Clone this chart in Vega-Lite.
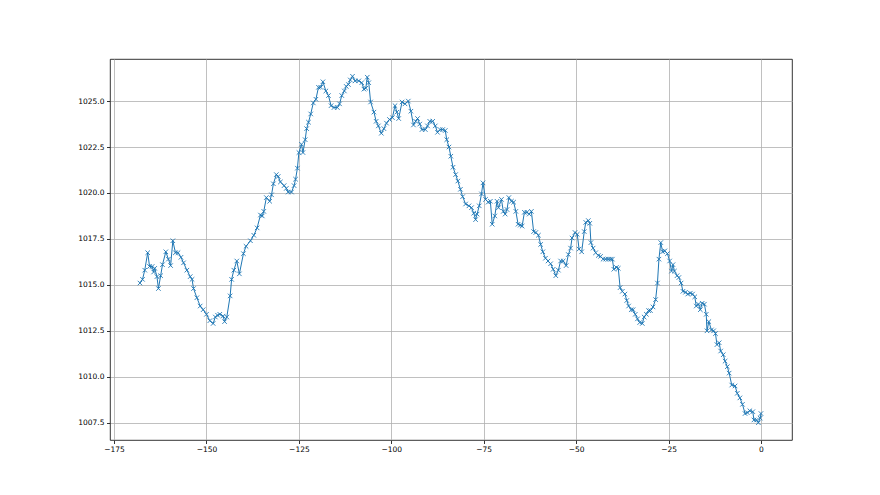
{
"$schema": "https://vega.github.io/schema/vega-lite/v6.json",
"width": 682, "height": 381,
"autosize": {"type": "none"},
"padding": {"left": 110, "top": 59, "right": 88, "bottom": 55},
"background": "white",
"config": {"view": {"stroke": "#000", "strokeWidth": 0.8}},
"data": {"values": [
{"t":-168.0,"p":1015.1},{"t":-167.3,"p":1015.3},{"t":-166.7,"p":1015.8},{"t":-165.9,"p":1016.75},{"t":-165.4,"p":1016.0},{"t":-164.7,"p":1016.0},{"t":-164.3,"p":1015.7},{"t":-164.0,"p":1015.9},{"t":-163.4,"p":1015.45},{"t":-163.0,"p":1014.8},{"t":-162.4,"p":1015.5},{"t":-161.9,"p":1016.1},{"t":-161.0,"p":1016.8},{"t":-160.3,"p":1016.4},{"t":-159.7,"p":1016.05},{"t":-159.1,"p":1017.4},{"t":-158.4,"p":1016.75},{"t":-157.7,"p":1016.75},{"t":-156.9,"p":1016.5},{"t":-156.2,"p":1016.2},{"t":-155.3,"p":1015.8},{"t":-154.4,"p":1015.45},{"t":-153.9,"p":1015.3},{"t":-153.5,"p":1014.8},{"t":-152.6,"p":1014.3},{"t":-151.7,"p":1013.85},{"t":-150.9,"p":1013.65},{"t":-150.0,"p":1013.4},{"t":-149.1,"p":1013.05},{"t":-148.2,"p":1012.9},{"t":-147.6,"p":1013.25},{"t":-147.0,"p":1013.35},{"t":-146.4,"p":1013.4},{"t":-145.5,"p":1013.3},{"t":-145.1,"p":1013.0},
{"t":-144.5,"p":1013.25},{"t":-143.6,"p":1014.4},{"t":-143.2,"p":1015.3},{"t":-142.6,"p":1015.8},{"t":-141.8,"p":1016.3},{"t":-141.1,"p":1015.6},{"t":-140.0,"p":1016.7},{"t":-139.3,"p":1017.1},{"t":-138.1,"p":1017.4},{"t":-137.2,"p":1017.7},{"t":-136.3,"p":1018.1},{"t":-135.4,"p":1018.8},{"t":-134.9,"p":1018.75},{"t":-134.5,"p":1019.0},{"t":-133.8,"p":1019.75},{"t":-132.9,"p":1019.55},{"t":-132.4,"p":1019.9},{"t":-131.9,"p":1020.5},{"t":-131.1,"p":1021.0},{"t":-130.6,"p":1020.9},{"t":-130.0,"p":1020.6},{"t":-129.0,"p":1020.4},{"t":-128.4,"p":1020.25},{"t":-127.9,"p":1020.05},{"t":-127.0,"p":1020.05},{"t":-126.3,"p":1020.4},{"t":-125.9,"p":1020.75},{"t":-125.4,"p":1021.35},{"t":-125.0,"p":1022.2},{"t":-124.3,"p":1022.65},{"t":-123.9,"p":1022.2},{"t":-123.3,"p":1022.9},{"t":-122.9,"p":1023.5},{"t":-122.4,"p":1023.85},{"t":-121.8,"p":1024.3},{"t":-121.1,"p":1024.9},{"t":-120.4,"p":1025.1},{"t":-119.7,"p":1025.75},{"t":-119.1,"p":1025.75},{"t":-118.5,"p":1026.05},{"t":-117.7,"p":1025.55},{"t":-117.0,"p":1025.3},{"t":-116.3,"p":1024.75},{"t":-115.5,"p":1024.65},{"t":-114.6,"p":1024.65},{"t":-114.0,"p":1024.85},{"t":-113.4,"p":1025.3},{"t":-112.7,"p":1025.55},{"t":-112.2,"p":1025.8},{"t":-111.6,"p":1025.9},{"t":-111.1,"p":1026.15},{"t":-110.5,"p":1026.35},
{"t":-109.8,"p":1026.1},{"t":-108.8,"p":1026.1},{"t":-108.0,"p":1026.0},{"t":-107.4,"p":1025.65},{"t":-106.9,"p":1025.7},{"t":-106.5,"p":1026.3},{"t":-106.1,"p":1026.0},{"t":-105.6,"p":1024.95},{"t":-104.7,"p":1024.4},{"t":-104.1,"p":1023.9},{"t":-103.5,"p":1023.65},{"t":-102.7,"p":1023.25},{"t":-102.0,"p":1023.5},{"t":-101.3,"p":1023.8},{"t":-100.5,"p":1024.0},{"t":-99.7,"p":1024.1},{"t":-99.0,"p":1024.75},{"t":-98.5,"p":1024.4},{"t":-98.0,"p":1024.05},{"t":-97.1,"p":1024.95},{"t":-96.3,"p":1024.85},{"t":-95.4,"p":1025.0},{"t":-94.7,"p":1024.45},{"t":-94.0,"p":1023.7},{"t":-93.4,"p":1023.9},{"t":-92.9,"p":1024.05},{"t":-92.3,"p":1023.75},{"t":-91.7,"p":1023.45},{"t":-90.8,"p":1023.45},{"t":-90.2,"p":1023.65},{"t":-89.6,"p":1023.9},{"t":-88.8,"p":1023.9},{"t":-88.1,"p":1023.65},{"t":-87.5,"p":1023.3},{"t":-86.8,"p":1023.45},{"t":-86.1,"p":1023.45},{"t":-85.4,"p":1023.4},{"t":-85.0,"p":1022.9},
{"t":-84.4,"p":1022.5},{"t":-83.9,"p":1022.0},{"t":-83.3,"p":1021.4},{"t":-82.6,"p":1021.0},{"t":-82.0,"p":1020.65},{"t":-81.3,"p":1020.2},{"t":-80.7,"p":1019.8},{"t":-79.9,"p":1019.4},{"t":-79.0,"p":1019.3},{"t":-78.3,"p":1019.2},{"t":-77.7,"p":1018.9},{"t":-77.2,"p":1018.55},{"t":-76.8,"p":1018.85},{"t":-76.2,"p":1019.3},{"t":-75.6,"p":1019.95},{"t":-75.2,"p":1020.55},{"t":-74.5,"p":1019.65},{"t":-73.8,"p":1019.5},{"t":-73.2,"p":1019.55},{"t":-72.7,"p":1018.3},{"t":-72.0,"p":1018.75},{"t":-71.4,"p":1019.55},{"t":-71.0,"p":1019.2},{"t":-70.2,"p":1019.65},{"t":-69.7,"p":1019.0},{"t":-69.2,"p":1018.85},{"t":-68.7,"p":1019.1},{"t":-68.2,"p":1019.75},{"t":-67.5,"p":1019.55},{"t":-66.9,"p":1019.5},{"t":-66.3,"p":1019.0},{"t":-65.7,"p":1018.3},{"t":-65.1,"p":1018.25},{"t":-64.6,"p":1018.2},{"t":-64.0,"p":1018.95},{"t":-63.3,"p":1018.95},{"t":-62.7,"p":1018.85},{"t":-62.1,"p":1019.0},{"t":-61.5,"p":1017.9},{"t":-60.9,"p":1017.85},{"t":-60.2,"p":1017.7},
{"t":-59.6,"p":1017.2},{"t":-59.0,"p":1016.8},{"t":-58.3,"p":1016.45},{"t":-57.6,"p":1016.3},{"t":-56.9,"p":1016.15},{"t":-56.2,"p":1015.85},{"t":-55.5,"p":1015.5},{"t":-54.8,"p":1015.8},{"t":-54.2,"p":1016.3},{"t":-53.5,"p":1016.3},{"t":-52.7,"p":1016.05},{"t":-52.1,"p":1016.65},{"t":-51.5,"p":1017.0},{"t":-51.1,"p":1017.55},{"t":-50.3,"p":1017.85},{"t":-49.7,"p":1017.75},{"t":-49.2,"p":1016.95},{"t":-48.5,"p":1016.8},{"t":-47.8,"p":1017.9},{"t":-47.4,"p":1018.4},{"t":-46.7,"p":1018.5},{"t":-46.3,"p":1018.35},{"t":-46.0,"p":1017.3},{"t":-45.4,"p":1017.0},{"t":-44.7,"p":1016.75},{"t":-44.0,"p":1016.6},{"t":-43.4,"p":1016.55},{"t":-42.7,"p":1016.4},{"t":-42.0,"p":1016.4},{"t":-41.3,"p":1016.4},{"t":-40.7,"p":1016.4},{"t":-40.2,"p":1016.4},{"t":-39.8,"p":1015.85},{"t":-39.1,"p":1015.95},{"t":-38.6,"p":1015.9},{"t":-38.1,"p":1014.85},{"t":-37.5,"p":1014.65},{"t":-36.8,"p":1014.5},{"t":-36.3,"p":1014.15},{"t":-35.8,"p":1013.85},{"t":-35.1,"p":1013.65},{"t":-34.6,"p":1013.65},{"t":-34.0,"p":1013.4},{"t":-33.4,"p":1013.15},{"t":-32.8,"p":1012.95},{"t":-32.1,"p":1012.9},{"t":-31.6,"p":1013.25},{"t":-31.0,"p":1013.4},{"t":-30.4,"p":1013.6},{"t":-29.9,"p":1013.6},{"t":-29.2,"p":1013.8},{"t":-28.5,"p":1014.2},{"t":-28.0,"p":1015.1},{"t":-27.6,"p":1016.4},{"t":-27.1,"p":1017.3},{"t":-26.6,"p":1016.8},{"t":-26.0,"p":1016.85},{"t":-25.3,"p":1016.7},{"t":-24.7,"p":1016.3},{"t":-24.2,"p":1015.75},{"t":-23.8,"p":1016.1},{"t":-23.4,"p":1015.75},{"t":-22.7,"p":1015.5},{"t":-22.2,"p":1015.4},{"t":-21.6,"p":1015.1},{"t":-21.1,"p":1014.65},{"t":-20.4,"p":1014.6},{"t":-19.8,"p":1014.5},{"t":-19.1,"p":1014.55},{"t":-18.5,"p":1014.5},{"t":-17.9,"p":1014.35},{"t":-17.5,"p":1013.85},{"t":-16.9,"p":1013.95},{"t":-16.4,"p":1013.65},{"t":-15.9,"p":1014.0},{"t":-15.3,"p":1013.95},{"t":-14.8,"p":1013.4},{"t":-14.6,"p":1012.5},{"t":-14.1,"p":1013.0},{"t":-13.4,"p":1012.55},{"t":-12.8,"p":1012.5},{"t":-12.3,"p":1012.35},{"t":-11.9,"p":1011.75},{"t":-11.3,"p":1011.85},{"t":-10.9,"p":1011.4},{"t":-10.2,"p":1011.2},{"t":-9.7,"p":1010.85},{"t":-9.1,"p":1010.55},{"t":-8.6,"p":1010.2},{"t":-7.9,"p":1009.55},{"t":-7.0,"p":1009.5},{"t":-6.4,"p":1009.1},{"t":-5.7,"p":1008.85},{"t":-5.0,"p":1008.5},{"t":-4.3,"p":1008.0},{"t":-3.7,"p":1008.05},{"t":-3.0,"p":1008.15},{"t":-2.2,"p":1008.1},{"t":-1.9,"p":1007.65},{"t":-1.2,"p":1007.65},{"t":-0.7,"p":1007.5},{"t":-0.2,"p":1007.75},{"t":0.0,"p":1008.0}
]},
"encoding": {
  "x": {"field": "t", "type": "quantitative",
    "scale": {"domain": [-176.1, 8.4], "nice": false, "zero": false},
    "axis": {"title": null, "values": [-175,-150,-125,-100,-75,-50,-25,0], "format": "d",
      "grid": true, "gridColor": "#b0b0b0", "gridWidth": 0.8, "domain": false,
      "tickColor": "#000", "tickSize": 3.5, "tickWidth": 0.8,
      "labelFont": "DejaVu Sans", "labelFontSize": 7.5, "labelColor": "#000", "labelPadding": 2, "labelFlush": false}},
  "y": {"field": "p", "type": "quantitative",
    "scale": {"domain": [1006.56, 1027.29], "nice": false, "zero": false},
    "axis": {"title": null, "values": [1007.5,1010,1012.5,1015,1017.5,1020,1022.5,1025], "format": ".1f",
      "grid": true, "gridColor": "#b0b0b0", "gridWidth": 0.8, "domain": false,
      "tickColor": "#000", "tickSize": 3.5, "tickWidth": 0.8,
      "labelFont": "DejaVu Sans", "labelFontSize": 7.5, "labelColor": "#000", "labelPadding": 2.5}}
},
"layer": [
  {"mark": {"type": "line", "color": "#1f77b4", "strokeWidth": 1}},
  {"mark": {"type": "point", "shape": "M-1,-1L1,1M-1,1L1,-1", "filled": false, "color": "#1f77b4", "strokeWidth": 0.9, "size": 20, "opacity": 1}}
]
}
